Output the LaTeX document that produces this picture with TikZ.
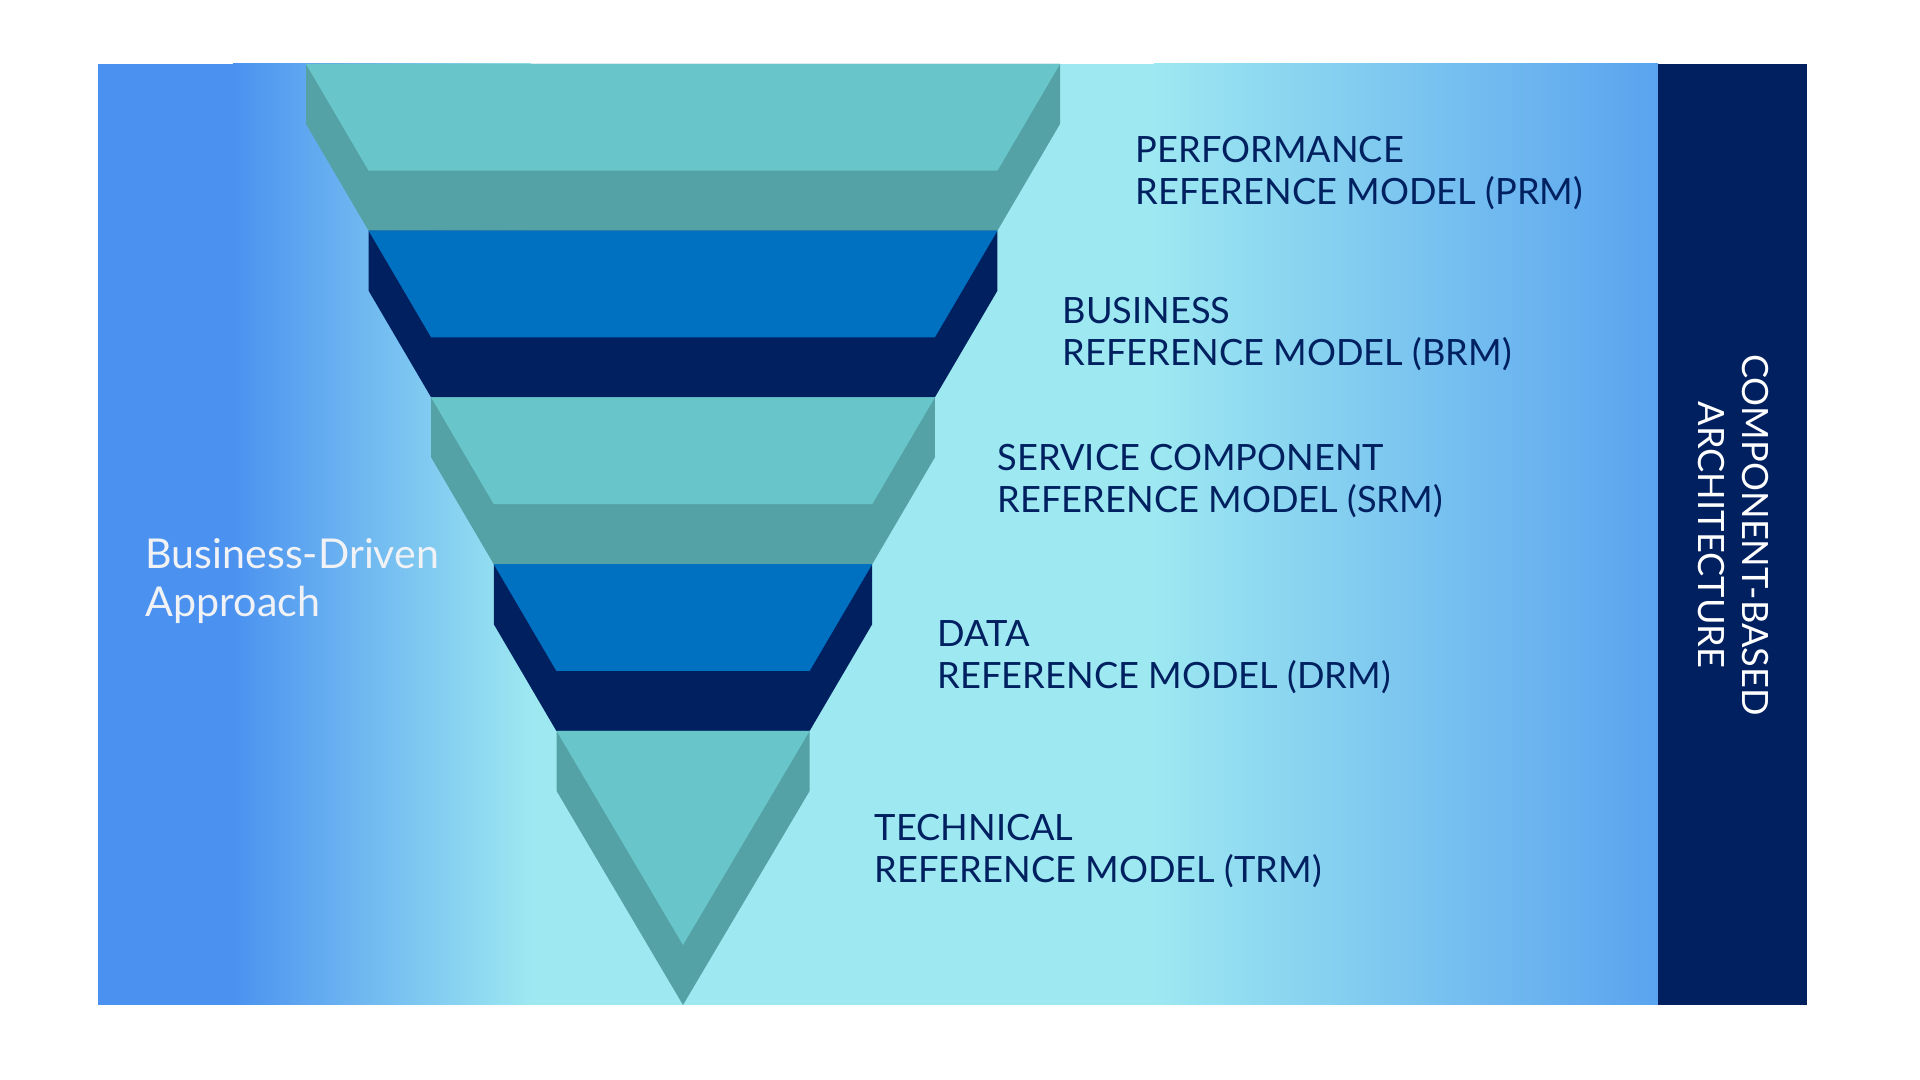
\documentclass[tikz,border=0pt]{standalone}
\usepackage{fontspec}
\setmainfont{Lato}

\definecolor{tealtop}{HTML}{68C5CA}
\definecolor{tealside}{HTML}{54A2A6}
\definecolor{bluetop}{HTML}{0070C0}
\definecolor{navy}{HTML}{002060}
\definecolor{bgblue}{HTML}{4B92F0}
\definecolor{bgcyan}{HTML}{9DE8F1}
\definecolor{bgright}{HTML}{5AA3EF}
\definecolor{paletext}{HTML}{F0F2F5}

\begin{document}
\begin{tikzpicture}[
	x=0.01cm, y=-0.01cm,
	modeltext/.style={% anchored at the baseline of the last line
		anchor=base west,
		inner sep=0pt,
		align=left,
		text=navy,
		font=\fontsize{10.3}{12.05}\selectfont,
	},
	approach/.style={
		anchor=base west,
		inner sep=0pt,
		align=left,
		text=paletext,
		font=\fontsize{11.7}{13.8}\selectfont,
	},
	sidebar/.style={
		rotate=-90,
		inner sep=0pt,
		align=center,
		text=white,
		font=\fontsize{10.3}{12.5}\selectfont,
	},
]
	\useasboundingbox (0,0) rectangle (1920,1080);

	% background
	\begin{scope}
		\clip (98,64) rectangle (1658,1005);
		\fill [bgblue] (98,64) rectangle (234,1005);
		\shade [left color=bgblue, right color=bgcyan] (233,64) rectangle (531,1005);
		\fill [bgcyan] (530,64) rectangle (1155,1005);
		\shade [left color=bgcyan, right color=bgright] (1154,64) rectangle (1659,1005);
	\end{scope}
	\fill [navy] (1658,64) rectangle (1807,1005);

	% funnel slabs
	\foreach \i/\face/\side in {0/tealtop/tealside, 1/bluetop/navy, 2/tealtop/tealside, 3/bluetop/navy} {
		\pgfmathsetmacro{\yt}{64+166.75*\i}
		\pgfmathsetmacro{\xl}{306+62.6*\i}
		\pgfmathsetmacro{\xr}{1060-62.6*\i}
		\fill [\side] (\xl,\yt) -- ++(0,60) -- ++(62.6,106.75) -- ++(\xr-\xl-125.2,0) -- ++(62.6,-106.75) -- ++(0,-60) -- cycle;
		\fill [\face] (\xl,\yt) -- ++(62.6,106.75) -- ++(\xr-\xl-125.2,0) -- (\xr,\yt) -- cycle;
	}
	\fill [tealside] (556.6,731) -- ++(0,60) -- (683,1005) -- (809.6,791) -- ++(0,-60) -- cycle;
	\fill [tealtop] (556.6,731) -- (683,945) -- (809.6,731) -- cycle;

	\node [modeltext] (prm) at (1135,205) {PERFORMANCE\\REFERENCE MODEL (PRM)};
	\node [modeltext] (brm) at (1062,366) {BUSINESS\\REFERENCE MODEL (BRM)};
	\node [modeltext] (srm) at (997,513) {SERVICE COMPONENT\\REFERENCE MODEL (SRM)};
	\node [modeltext] (drm) at (937,689) {DATA\\REFERENCE MODEL (DRM)};
	\node [modeltext] (trm) at (874,883) {TECHNICAL\\REFERENCE MODEL (TRM)};

	\node [approach] (bda) at (145,617) {Business-Driven\\Approach};
	\node [sidebar] (cba) at (1733,535) {COMPONENT-BASED\\ARCHITECTURE};
\end{tikzpicture}
\end{document}
